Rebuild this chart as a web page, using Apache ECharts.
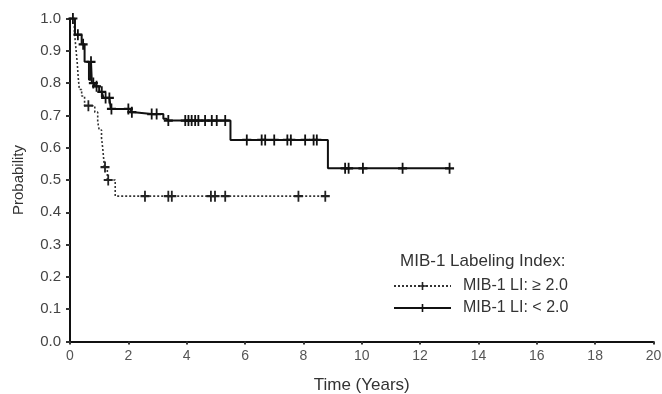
<!DOCTYPE html>
<html>
<head>
<meta charset="utf-8">
<script src="https://cdn.jsdelivr.net/npm/echarts@6/dist/echarts.min.js"></script>
<style>html,body{margin:0;padding:0;background:#fff}#c{width:662px;height:394px}</style>
</head>
<body>
<div id="c"></div>
<script>
// Tick labels
var xTicks = [0, 2, 4, 6, 8, 10, 12, 14, 16, 18, 20];
var yTicks = [0.0, 0.1, 0.2, 0.3, 0.4, 0.5, 0.6, 0.7, 0.8, 0.9, 1.0];

// MIB-1 LI >= 2.0 (dotted)
var highEvents = [[0, 1.0], [0.15, 0.96], [0.2, 0.91], [0.25, 0.86], [0.28, 0.82], [0.32, 0.78],
  [0.4, 0.76], [0.5, 0.73], [0.85, 0.71], [0.95, 0.68], [1.0, 0.655], [1.08, 0.63],
  [1.12, 0.60], [1.18, 0.54], [1.28, 0.50], [1.55, 0.45]];
var highCensors = [[0.63, 0.73], [1.2, 0.54], [1.31, 0.50], [2.57, 0.45], [3.37, 0.45], [3.49, 0.45],
  [4.83, 0.45], [4.97, 0.45], [5.32, 0.45], [7.83, 0.45], [8.75, 0.45]];

// MIB-1 LI < 2.0 (solid)
var lowEvents = [[0, 1.0], [0.17, 0.95], [0.4, 0.92], [0.5, 0.866], [0.65, 0.81], [0.75, 0.80],
  [0.85, 0.79], [1.0, 0.773], [1.15, 0.754], [1.4, 0.72], [2.08, 0.71], [2.2, 0.704],
  [3.2, 0.69], [3.3, 0.684], [5.5, 0.624], [8.84, 0.536]];
var lowCensors = [[0.1, 1.0], [0.27, 0.95], [0.45, 0.92], [0.72, 0.866], [0.8, 0.80], [0.91, 0.79],
  [1.09, 0.773], [1.22, 0.754], [1.35, 0.754], [1.42, 0.72], [2.0, 0.72], [2.12, 0.71],
  [2.8, 0.704], [2.97, 0.704], [3.37, 0.684], [3.95, 0.684], [4.06, 0.684], [4.17, 0.684],
  [4.29, 0.684], [4.40, 0.684], [4.63, 0.684], [4.86, 0.684], [5.03, 0.684], [5.32, 0.684],
  [6.06, 0.624], [6.57, 0.624], [6.69, 0.624], [7.0, 0.624], [7.45, 0.624], [7.57, 0.624],
  [8.06, 0.624], [8.35, 0.624], [8.46, 0.624], [9.43, 0.536], [9.55, 0.536], [10.04, 0.536],
  [11.4, 0.536], [13.01, 0.536]];

var seriesNames = ['MIB-1 LI: \u2265 2.0', 'MIB-1 LI: < 2.0'];
var PLUS = 'path://M0,4H10V6H0ZM4,0H6V10H4Z';

function build(events, censors) {
  var pts = events.map(function (p) { return { value: p, symbol: 'none', k: 0 }; })
    .concat(censors.map(function (p) { return { value: p, k: 1 }; }));
  pts.sort(function (a, b) { return a.value[0] - b.value[0] || a.k - b.k; });
  return pts.map(function (p) { var o = { value: p.value }; if (p.symbol) o.symbol = p.symbol; return o; });
}

var FONT = 'Liberation Sans, Arial, sans-serif';
var chart = echarts.init(document.getElementById('c'), null, { renderer: 'canvas' });
chart.setOption({
  animation: false,
  backgroundColor: '#fff',
  textStyle: { fontFamily: FONT },
  title: {
    text: 'MIB-1 Labeling Index:',
    left: 395, top: 248, padding: 5,
    textStyle: { fontFamily: FONT, fontSize: 17, fontWeight: 'normal', color: '#333' }
  },
  legend: {
    orient: 'vertical', left: 393, top: 278, padding: 0,
    itemWidth: 57, itemHeight: 10, itemGap: 6,
    textStyle: { fontFamily: FONT, fontSize: 16, color: '#333', padding: [0, 0, 0, 7] },
    data: seriesNames
  },
  grid: { left: 70, right: 8.5, top: 18.5, bottom: 52.5, containLabel: false, outerBoundsMode: 'none' },
  xAxis: {
    type: 'value', min: 0, max: 20, interval: 2,
    name: 'Time (Years)', nameLocation: 'middle', nameGap: 35,
    nameTextStyle: { fontFamily: FONT, fontSize: 17, color: '#333' },
    axisLine: { lineStyle: { color: '#111', width: 2 } },
    axisTick: { show: true, length: 3, lineStyle: { color: '#333', width: 2 } },
    axisLabel: { fontFamily: FONT, fontSize: 14, color: '#555', margin: 8,
      formatter: function (v) { return xTicks.indexOf(v) >= 0 ? String(v) : ''; } },
    splitLine: { show: false }
  },
  yAxis: {
    type: 'value', min: 0, max: 1, interval: 0.1,
    name: 'Probability', nameLocation: 'middle', nameGap: 44, nameRotate: 90,
    nameTextStyle: { fontFamily: FONT, fontSize: 15, color: '#333' },
    axisLine: { show: true, lineStyle: { color: '#111', width: 2 } },
    axisTick: { show: true, length: 4, lineStyle: { color: '#333', width: 2 } },
    axisLabel: { fontFamily: FONT, fontSize: 15, color: '#444', margin: 9,
      formatter: function (v) { var r = Math.round(v * 10) / 10; return yTicks.indexOf(r) >= 0 ? r.toFixed(1) : ''; } },
    splitLine: { show: false }
  },
  series: [
    {
      name: seriesNames[0], type: 'line', step: 'end',
      data: build(highEvents, highCensors),
      symbol: PLUS, symbolSize: [9, 11], showAllSymbol: true,
      itemStyle: { color: '#222' },
      lineStyle: { color: '#333', width: 1.6, type: [2, 2] },
      z: 2
    },
    {
      name: seriesNames[1], type: 'line', step: 'end',
      data: build(lowEvents, lowCensors),
      symbol: PLUS, symbolSize: [9, 11], showAllSymbol: true,
      itemStyle: { color: '#111' },
      lineStyle: { color: '#111', width: 2 },
      z: 3
    }
  ]
});
</script>
</body>
</html>
